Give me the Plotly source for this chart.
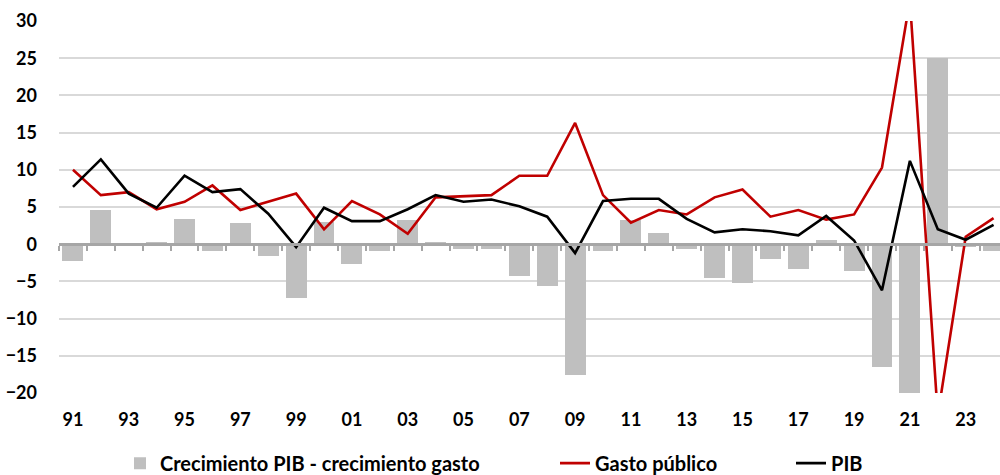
import plotly.graph_objects as go

years = [str(y)[-2:] for y in range(1991, 2025)]
tick_labels = years[::2]

diferencia = [-2.2, 4.6, -0.3, 0.3, 3.4, -0.9, 2.8, -1.6, -7.2, 3.0,
              -2.6, -0.9, 3.2, 0.3, -0.7, -0.7, -4.3, -5.6, -17.6, -0.9,
              3.2, 1.5, -0.7, -4.6, -5.2, -2.0, -3.3, 0.5, -3.6, -16.5,
              -21.5, 25.0, -0.4, -0.9]

gasto_publico = [10.0, 6.6, 7.0, 4.7, 5.7, 7.9, 4.6, 5.7, 6.8, 2.0,
                 5.8, 4.0, 1.4, 6.3, 6.4, 6.6, 9.2, 9.2, 16.3, 6.6,
                 2.9, 4.6, 4.0, 6.3, 7.35, 3.7, 4.6, 3.3, 4.0, 10.3,
                 32.8, -23.0, 1.0, 3.5]

pib = [7.7, 11.4, 6.8, 4.9, 9.2, 7.0, 7.4, 4.1, -0.4, 4.9,
       3.1, 3.1, 4.7, 6.6, 5.7, 6.0, 5.1, 3.7, -1.2, 5.8,
       6.1, 6.1, 3.4, 1.6, 2.0, 1.75, 1.2, 3.8, 0.5, -6.2,
       11.2, 2.0, 0.6, 2.6]

FONT = "Lato"
xrange_ = [-0.5, 33.23]

fig = go.Figure()
fig.add_trace(go.Bar(x=years, y=diferencia, name="Crecimiento PIB - crecimiento gasto",
                     marker=dict(color="#bfbfbf", line=dict(width=0)), width=0.75,
                     legend="legend"))
fig.add_trace(go.Scatter(x=years, y=gasto_publico, name="Gasto público", mode="lines",
                         line=dict(color="#c00000", width=2.6), legend="legend2"))
fig.add_trace(go.Scatter(x=years, y=pib, name="PIB", mode="lines",
                         line=dict(color="#000000", width=2.6), legend="legend3"))
# invisible helper trace for the zero-line axis with boundary ticks
fig.add_trace(go.Scatter(x=[0], y=[0], xaxis="x2", mode="markers",
                         marker=dict(opacity=0), showlegend=False, hoverinfo="skip"))

legend_common = dict(orientation="h", xref="container", yref="container",
                     xanchor="left", y=0.025, yanchor="middle",
                     font=dict(family=FONT, size=20, weight="bold"),
                     bgcolor="rgba(0,0,0,0)", borderwidth=0)

fig.update_layout(
    width=1000, height=475,
    margin=dict(l=59, r=0, t=21, b=82, autoexpand=False),
    plot_bgcolor="white", paper_bgcolor="white",
    bargap=0,
    font=dict(family=FONT, size=18, color="#000000", weight="bold"),
    xaxis=dict(type="category", range=xrange_, tickvals=tick_labels,
               showgrid=False, showline=False, zeroline=False, ticks="",
               tickfont=dict(family=FONT, size=18, weight="bold"),
               ticklabelstandoff=14, automargin=False),
    xaxis2=dict(overlaying="x", anchor="free", position=0.4, range=xrange_,
                type="linear", showline=True, linecolor="#a6a6a6", linewidth=2.5,
                ticks="outside", ticklen=5, tickwidth=2, tickcolor="#a6a6a6",
                tickvals=[i - 0.5 for i in range(len(years) + 1)],
                showticklabels=False, showgrid=False, zeroline=False),
    yaxis=dict(range=[-20, 30], dtick=5, showgrid=True, gridcolor="#d9d9d9",
               gridwidth=1.5, zeroline=True, zerolinecolor="#a6a6a6",
               zerolinewidth=2.5, showline=False, ticks="",
               tickfont=dict(family=FONT, size=18, weight="bold"),
               ticklabelstandoff=21, automargin=False),
    legend=dict(legend_common, x=0.120),
    legend2=dict(legend_common, x=0.555),
    legend3=dict(legend_common, x=0.791),
    showlegend=True,
)

fig.write_html("out.html", config={"displayModeBar": False},
               post_script="document.body.style.margin='0';document.body.style.overflow='hidden';")
